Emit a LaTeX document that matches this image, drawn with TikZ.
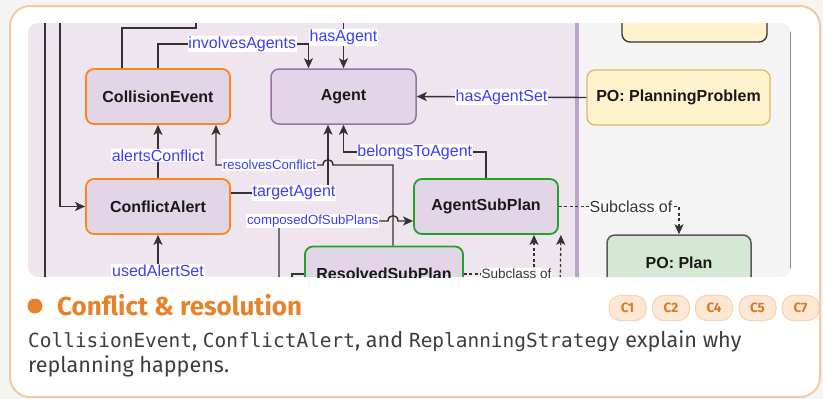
\documentclass[tikz,border=0pt]{standalone}
\usepackage{fontspec}
\setmainfont{Fira Sans}
\setmonofont{DejaVu Sans Mono}[Scale=0.9]
\newfontfamily\diagfont{Liberation Sans}
\usetikzlibrary{arrows.meta,calc}

\definecolor{pagebg}{HTML}{F6F4F3}
\definecolor{cardline}{HTML}{F6C8A0}
\definecolor{lavender}{HTML}{EEE5EF}
\definecolor{graypanel}{HTML}{F4F4F4}
\definecolor{divider}{HTML}{B9A5C9}
\definecolor{nodefill}{HTML}{E1D5E7}
\definecolor{orangeline}{HTML}{F7871F}
\definecolor{purpleline}{HTML}{9673A6}
\definecolor{greenline}{HTML}{22A322}
\definecolor{labelblue}{HTML}{3C3CFF}
\definecolor{yellowfill}{HTML}{FFF2CC}
\definecolor{yellowline}{HTML}{D9BC62}
\definecolor{greenfill}{HTML}{D5E8D4}
\definecolor{titleorange}{HTML}{E8822A}
\definecolor{desctext}{HTML}{3D3D3D}
\definecolor{badgefill}{HTML}{FCE6D4}
\definecolor{badgeline}{HTML}{F7D2B2}
\definecolor{badgetext}{HTML}{D77A24}

\begin{document}
\begin{tikzpicture}[x=1pt, y=-1pt,
  >={Stealth[length=10pt,width=9pt,inset=2.5pt]},
  cls/.style={draw, rounded corners=8pt, line width=1.8pt, fill=nodefill,
    minimum width=144pt, minimum height=55pt, inner sep=0pt,
    font=\diagfont\bfseries\fontsize{16}{18}\selectfont, text=black!90},
  event/.style={cls, draw=orangeline},
  agentcls/.style={cls, draw=purpleline, line width=1.5pt},
  subplan/.style={cls, draw=greenline},
  ponode/.style={cls, fill=yellowfill, draw=yellowline, line width=1.3pt},
  rail/.style={draw=black!80, line width=1.4pt},
  link/.style={rail, ->},
  sub/.style={draw=black!80, line width=1.3pt, dash pattern=on 3pt off 2.5pt, ->},
  rel/.style={fill=white, inner sep=0.8pt, text=labelblue,
    font=\diagfont\fontsize{16}{18}\selectfont},
  smallrel/.style={rel, font=\diagfont\fontsize{13.2}{15}\selectfont},
  sublabel/.style={rel, text=black!80},
  title/.style={inner sep=0pt, text=titleorange, font=\bfseries\fontsize{26}{30}\selectfont},
  desc/.style={inner sep=0pt, text=desctext, font=\fontsize{21.6}{25}\selectfont},
  badge/.style={draw=badgeline, line width=1pt, fill=badgefill, rounded corners=11pt,
    minimum width=37pt, minimum height=25pt, inner sep=0pt, text=badgetext,
    font=\bfseries\fontsize{13.5}{15}\selectfont}]

  % Page and card
  \fill[pagebg] (0,0) rectangle (823,399);
  \draw[cardline, line width=2pt, fill=white, rounded corners=20pt] (10,6) rectangle (820,397);

  % Diagram excerpt
  \begin{scope}
    \clip[rounded corners=10pt] (28,23) rectangle (791,277);
    \fill[lavender] (28,23) rectangle (577,277);
    \fill[graypanel] (577,23) rectangle (791,277);
    \draw[divider, line width=3.5pt] (577,15) -- (577,285);
    \draw[black!45, line width=1pt] (790,15) -- (790,285);

    % Classes
    \node[event] (ce) at (158,96.5) {CollisionEvent};
    \node[event] (ca) at (158,206.5) {ConflictAlert};
    \node[agentcls, minimum width=145pt] (ag) at (343.5,96.5) {Agent};
    \node[subplan] (asp) at (486,206.5) {AgentSubPlan};
    \node[subplan, minimum width=158pt] (rsp) at (384,274) {ResolvedSubPlan};
    \node[ponode, minimum width=183pt] (pp) at (678.5,97.5) {PO: PlanningProblem};
    \node[ponode, draw=black!80, minimum width=145pt] (ptop) at (694.5,14.5) {};
    \node[ponode, fill=greenfill, draw=black!65, line width=1.5pt] (plan) at (679,262.5) {PO: Plan};

    % Free ends (outside the excerpt)
    \coordinate (leftA) at (45,10);
    \coordinate (leftAend) at (45,290);
    \coordinate (leftB) at (60,10);
    \coordinate (topA) at (196,10);
    \coordinate (topB) at (343.5,10);
    \coordinate (alertSrc) at (158,300);
    \coordinate (compSrc) at (279,300);
    \coordinate (rspSrc) at (292,300);
    \coordinate (dotSrc) at (560,300);

    % Left rails
    \draw[rail] (leftA) -- (leftAend);
    \draw[link] (leftB) |- (ca.west);
    \draw[rail] ($(ce.north)+(-36,0)$) |- (196,28) -- (topA);

    % Object properties
    \draw[link] (ce.north) -- ++(0,-24) -| node[rel, pos=0.28]{involvesAgents} ($(ag.north)+(-35,0)$);
    \draw[link] (topB) -- node[rel, pos=0.47]{hasAgent} (ag.north);
    \draw[link] (pp.west) -- node[rel]{hasAgentSet} (ag.east);
    \draw[link] (ca.north) -- node[rel, pos=0.42]{alertsConflict} (ce.south);
    \draw[link] (alertSrc) -- node[rel, pos=0.45]{usedAlertSet} (ca.south);
    \draw[link] ($(ca.east)+(0,-13.5)$) -- node[rel, pos=0.65]{targetAgent} (328,193)
      -- ($(ag.south)+(-15.5,0)$);
    \draw[link] ($(rsp.north)+(9,0)$) -- (393,165) -- (333,165)
      .. controls (333,158) and (323,158) .. (323,165)
      -- node[smallrel]{resolvesConflict} (216,165) -- ($(ce.south)+(58,0)$);
    \draw[link] (asp.north) -- (486,152) -- node[rel]{belongsToAgent} (343.5,152) -- (ag.south);
    \draw[link] (compSrc) -- (279,221) -- node[smallrel, pos=0.31]{composedOfSubPlans} (388,221)
      .. controls (388,214) and (398,214) .. (398,221) -- ($(asp.west)+(0,14.5)$);
    \draw[rail] (rspSrc) |- (rsp.west);

    % Subclass links
    \draw[sub] (asp.east) -- node[sublabel, pos=0.6]{Subclass of} (679,206.5) -- (plan.north);
    \draw[sub] (rsp.east) -- node[sublabel, font=\diagfont\fontsize{13.5}{15}\selectfont, pos=0.75]{Subclass of}
      (534,274) -- ($(asp.south)+(48,0)$);
    \draw[sub] (dotSrc) -- ($(asp.south east)+(2,0)$);
  \end{scope}

  % Caption
  \fill[titleorange] (35,306) circle (7.5pt);
  \node[title, anchor=base west] (title) at (57,315) {Conflict \& resolution};
  \node[desc, anchor=base west] (desc1) at (28,347)
    {\texttt{CollisionEvent}, \texttt{ConflictAlert}, and \texttt{ReplanningStrategy} explain why};
  \node[desc, anchor=base west] (desc2) at (28,372) {replanning happens.};

  % Competency badges
  \foreach \lbl/\px in {C1/627.5, C2/671, C4/714, C5/757.5, C7/800.5}
    \node[badge] (badge\lbl) at (\px,308) {\lbl};
\end{tikzpicture}
\end{document}
